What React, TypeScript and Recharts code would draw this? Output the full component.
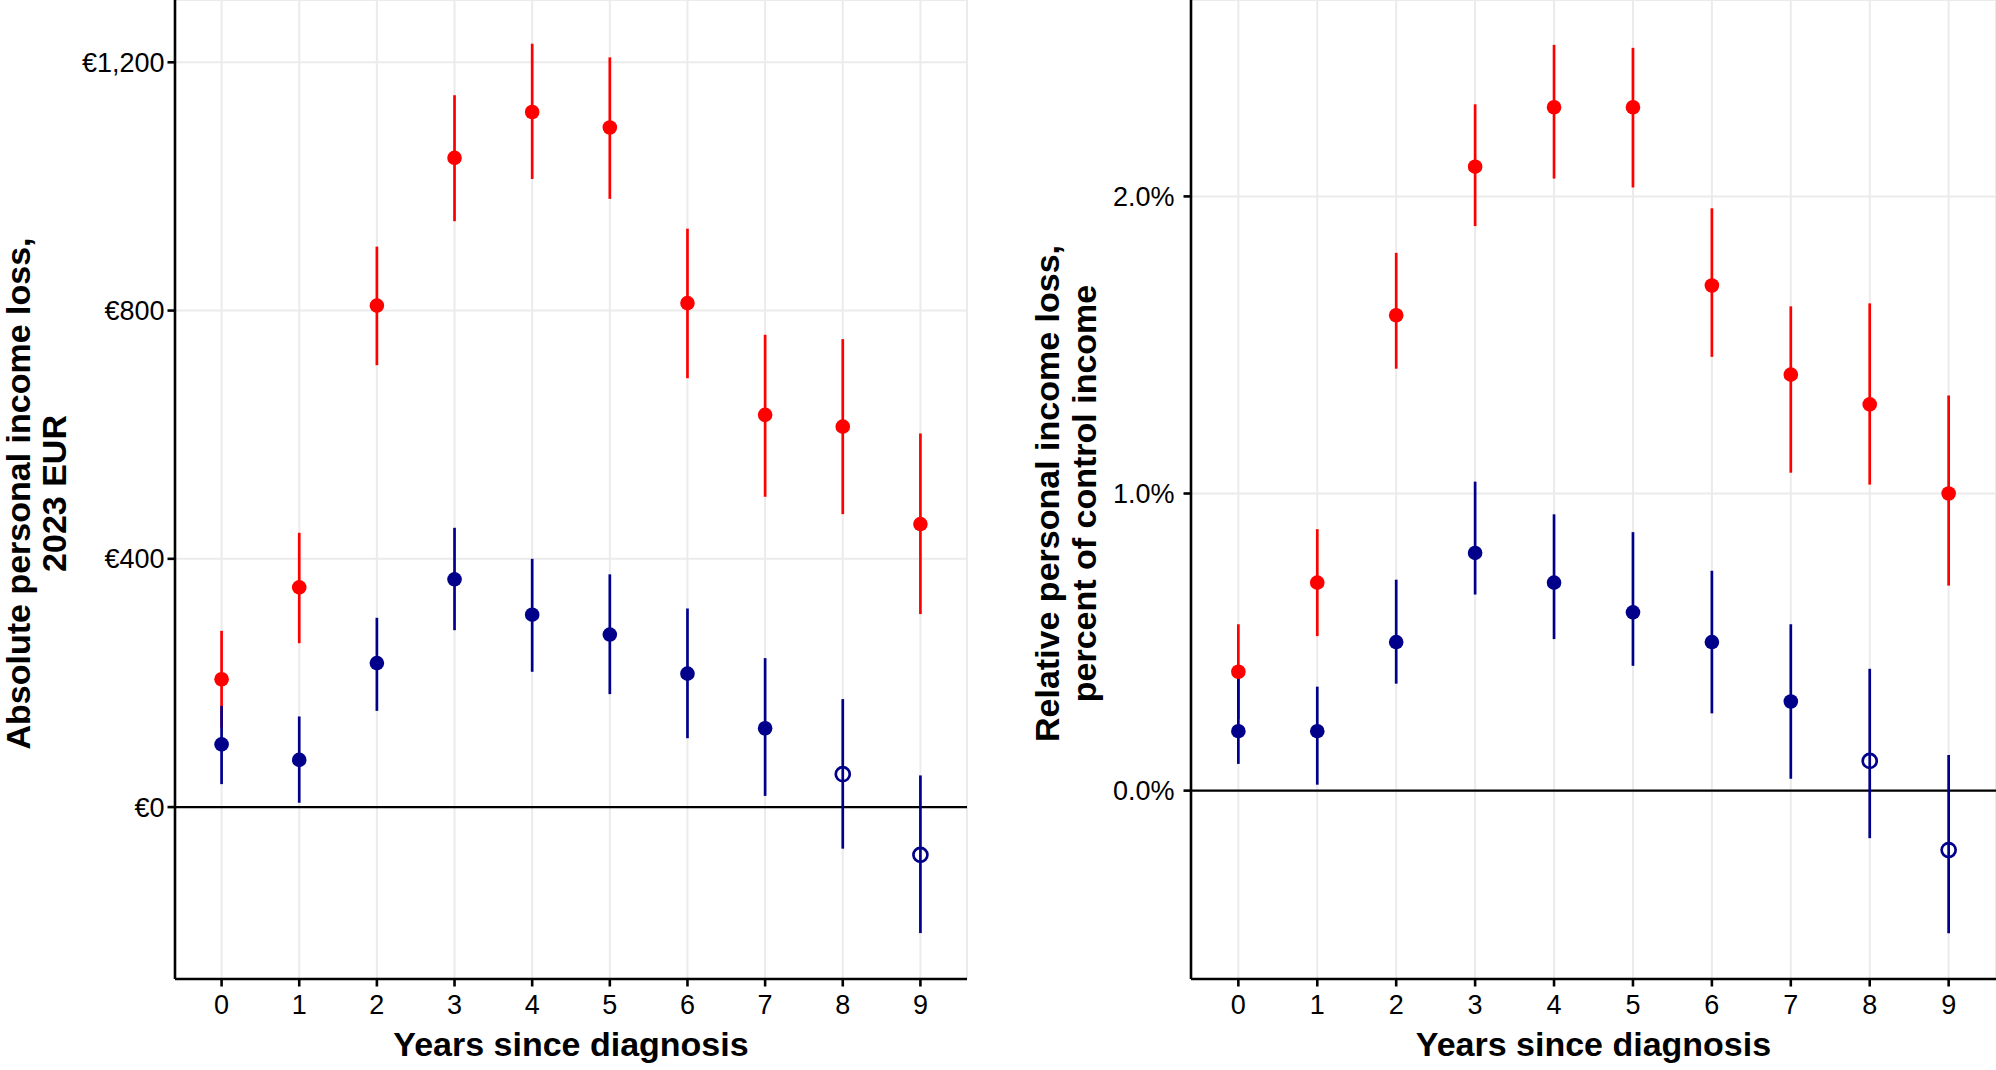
import React from 'react';
import { ComposedChart, Scatter, ErrorBar, XAxis, YAxis, CartesianGrid, ReferenceLine } from 'recharts';

const years = [0, 1, 2, 3, 4, 5, 6, 7, 8, 9];

// absolute loss, 2023 EUR
const absRedEst = [206, 354, 808, 1046, 1120, 1095, 812, 632, 613, 456];
const absRedLow = [128, 264, 712, 944, 1012, 980, 691, 500, 472, 311];
const absRedHigh = [284, 442, 903, 1147, 1230, 1208, 932, 761, 754, 602];

const absBlueEst = [101, 76, 232, 367, 310, 278, 215, 127, 53, -77];
const absBlueLow = [37, 7, 155, 285, 218, 182, 111, 18, -67, -203];
const absBlueHigh = [163, 146, 305, 450, 400, 375, 320, 240, 174, 51];

// relative loss, percent of control income
const relRedEst = [0.4, 0.7, 1.6, 2.1, 2.3, 2.3, 1.7, 1.4, 1.3, 1.0];
const relRedLow = [0.24, 0.52, 1.42, 1.9, 2.06, 2.03, 1.46, 1.07, 1.03, 0.69];
const relRedHigh = [0.56, 0.88, 1.81, 2.31, 2.51, 2.5, 1.96, 1.63, 1.64, 1.33];

const relBlueEst = [0.2, 0.2, 0.5, 0.8, 0.7, 0.6, 0.5, 0.3, 0.1, -0.2];
const relBlueLow = [0.09, 0.02, 0.36, 0.66, 0.51, 0.42, 0.26, 0.04, -0.16, -0.48];
const relBlueHigh = [0.38, 0.35, 0.71, 1.04, 0.93, 0.87, 0.74, 0.56, 0.41, 0.12];

// hollow markers where the blue estimate is not significant
const blueFilled = [true, true, true, true, true, true, true, true, false, false];

const absTicks = [0, 400, 800, 1200];
const relTicks = [0, 1, 2];

const RED = '#FF0000';
const BLUE = '#00008B';
const FONT = '"Liberation Sans", Arial, Helvetica, sans-serif';

const buildRows = (est: number[], low: number[], high: number[], filled?: boolean[]) =>
  years.map((year, i) => ({
    year,
    est: est[i],
    err: [est[i] - low[i], high[i] - est[i]],
    filled: filled ? filled[i] : true,
  }));

const makeShape = (color: string) => (props: any) => {
  const { cx, cy, payload } = props;
  if (cx == null || cy == null) return <g />;
  if (payload && payload.filled === false) {
    return <circle cx={cx} cy={cy} r={7} fill="none" stroke={color} strokeWidth={2.7} />;
  }
  return <circle cx={cx} cy={cy} r={7.3} fill={color} />;
};

interface PanelProps {
  left: number;
  width: number;
  yAxisWidth: number;
  marginRight: number;
  domain: [number, number];
  ticks: number[];
  formatTick: (v: number) => string;
  titleLines: [string, string];
  titleX: [number, number];
  tickMargin: number;
  red: any[];
  blue: any[];
}

const Panel: React.FC<PanelProps> = ({
  left, width, yAxisWidth, marginRight, domain, ticks, formatTick,
  titleLines, titleX, tickMargin, red, blue,
}) => {
  const renderYTitle = (props: any) => {
    const vb = props.viewBox || { y: 0, height: 979 };
    const cy = vb.y + vb.height / 2 + 4;
    return (
      <g>
        {titleLines.map((line, i) => (
          <text
            key={i}
            x={titleX[i]}
            y={cy}
            transform={`rotate(-90, ${titleX[i]}, ${cy})`}
            textAnchor="middle"
            fontSize={34}
            fontWeight="bold"
            fill="#000"
            fontFamily={FONT}
          >
            {line}
          </text>
        ))}
      </g>
    );
  };

  const renderXTitle = (props: any) => {
    const vb = props.viewBox || { x: 0, y: 979, width: 0 };
    return (
      <text
        x={vb.x + vb.width / 2}
        y={vb.y + 77}
        textAnchor="middle"
        fontSize={34}
        fontWeight="bold"
        fill="#000"
        fontFamily={FONT}
      >
        Years since diagnosis
      </text>
    );
  };

  return (
    <div style={{ position: 'absolute', left, top: 0 }}>
      <ComposedChart width={width} height={1070} margin={{ top: 0, right: marginRight, bottom: 0, left: 0 }}>
        <CartesianGrid stroke="#EBEBEB" strokeWidth={2} />
        <XAxis
          type="number"
          dataKey="year"
          domain={[-0.6, 9.6]}
          ticks={years}
          interval={0}
          allowDataOverflow
          height={91}
          axisLine={{ stroke: '#000', strokeWidth: 2.6 }}
          tickLine={{ stroke: '#000', strokeWidth: 2.6 }}
          tickSize={7.5}
          tickMargin={8}
          tick={{ fontSize: 27, fill: '#000', fontFamily: FONT }}
          label={renderXTitle}
        />
        <YAxis
          type="number"
          domain={domain}
          ticks={ticks}
          interval={0}
          allowDataOverflow
          width={yAxisWidth}
          tickFormatter={formatTick}
          axisLine={{ stroke: '#000', strokeWidth: 2.6 }}
          tickLine={{ stroke: '#000', strokeWidth: 2.6 }}
          tickSize={7.5}
          tickMargin={tickMargin}
          tick={{ fontSize: 27, fill: '#000', fontFamily: FONT }}
          label={renderYTitle}
        />
        <ReferenceLine y={0} stroke="#000" strokeWidth={2.2} />
        <Scatter data={red} dataKey="est" fill={RED} shape={makeShape(RED)} isAnimationActive={false}>
          <ErrorBar dataKey="err" direction="y" width={0} stroke={RED} strokeWidth={2.7} isAnimationActive={false} />
        </Scatter>
        <Scatter data={blue} dataKey="est" fill={BLUE} shape={makeShape(BLUE)} isAnimationActive={false}>
          <ErrorBar dataKey="err" direction="y" width={0} stroke={BLUE} strokeWidth={2.7} isAnimationActive={false} />
        </Scatter>
      </ComposedChart>
    </div>
  );
};

const formatEuro = (v: number) => `€${v.toLocaleString('en-US')}`;
const formatPct = (v: number) => `${v.toFixed(1)}%`;

const App: React.FC = () => {
  const absRed = buildRows(absRedEst, absRedLow, absRedHigh);
  const absBlue = buildRows(absBlueEst, absBlueLow, absBlueHigh, blueFilled);
  const relRed = buildRows(relRedEst, relRedLow, relRedHigh);
  const relBlue = buildRows(relBlueEst, relBlueLow, relBlueHigh, blueFilled);

  return (
    <div
      style={{
        position: 'absolute',
        left: 0,
        top: 0,
        width: 1996,
        height: 1070,
        overflow: 'hidden',
        background: '#fff',
        fontFamily: FONT,
      }}
    >
      <Panel
        left={0}
        width={990}
        yAxisWidth={175}
        marginRight={23}
        domain={[-277, 1300.4]}
        ticks={absTicks}
        formatTick={formatEuro}
        titleLines={['Absolute personal income loss,', '2023 EUR']}
        titleX={[30, 66]}
        tickMargin={3}
        red={absRed}
        blue={absBlue}
      />
      <Panel
        left={1000}
        width={996}
        yAxisWidth={191}
        marginRight={0}
        domain={[-0.634, 2.661]}
        ticks={relTicks}
        formatTick={formatPct}
        titleLines={['Relative personal income loss,', 'percent of control income']}
        titleX={[59, 96]}
        tickMargin={9}
        red={relRed}
        blue={relBlue}
      />
    </div>
  );
};

export default App;
